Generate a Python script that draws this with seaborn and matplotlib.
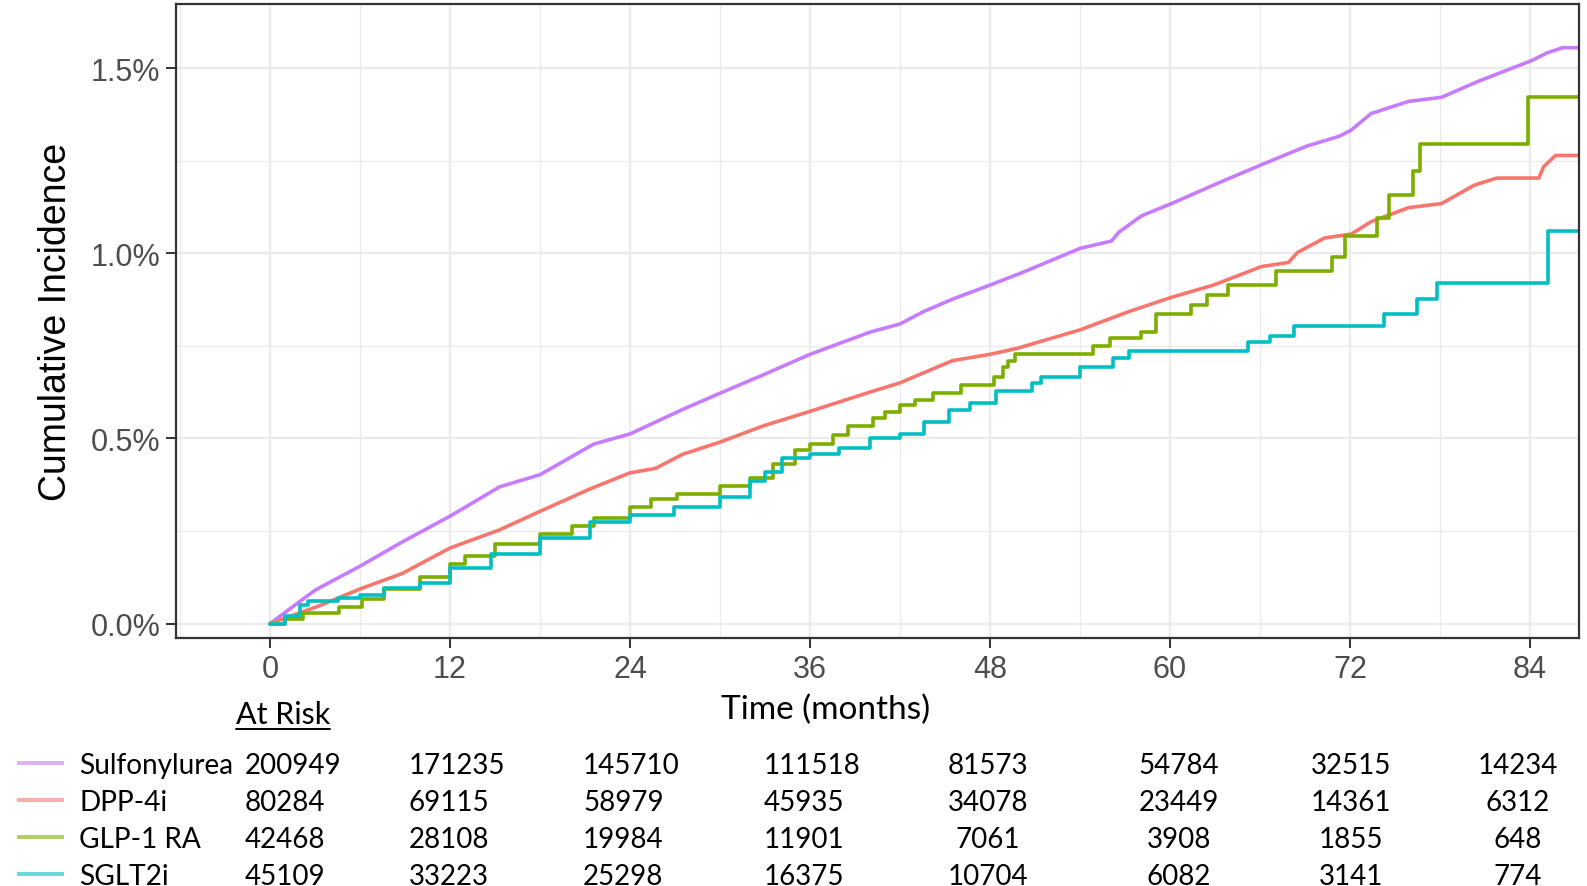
import numpy as np
import pandas as pd
import matplotlib
matplotlib.use("Agg")
import matplotlib.pyplot as plt
import seaborn as sns
from matplotlib.lines import Line2D
from matplotlib.ticker import FuncFormatter, MultipleLocator

# ---- data (cumulative incidence in %) ----
groups = ["Sulfonylurea", "DPP-4i", "GLP-1 RA", "SGLT2i"]
colors = ["#C77CFF", "#F8766D", "#7CAE00", "#00BFC4"]

su_t = [0, 1, 2, 3, 6, 8.8, 12, 15.3, 18, 21.6, 24, 27.5, 30, 32.9, 36, 40, 42,
        43.6, 45.5, 48, 50.1, 54, 56.1, 56.6, 58.1, 60.1, 62.9, 66.1, 69.1,
        71.3, 72.1, 73.4, 75.9, 78.1, 80.6, 84.1, 85.2, 86.2, 88]
su_ci = [0, 0.03, 0.06, 0.09, 0.155, 0.22, 0.29, 0.369, 0.402, 0.485, 0.512,
         0.578, 0.622, 0.672, 0.727, 0.787, 0.809, 0.843, 0.876, 0.914, 0.947,
         1.013, 1.033, 1.057, 1.101, 1.134, 1.184, 1.239, 1.289, 1.316, 1.333,
         1.377, 1.41, 1.421, 1.465, 1.52, 1.542, 1.555, 1.555]

dpp_t = [0, 1, 3.1, 6.1, 8.8, 12, 15.3, 18, 21.3, 24, 25.7, 27.5, 30, 32.9, 36,
         40, 42, 45.5, 48, 49.8, 54, 57.3, 60.1, 62.9, 66.1, 67.9, 68.5, 70.3,
         72.1, 73.4, 75.9, 78.1, 80.3, 81.8, 84.6, 84.9, 85.7, 88]
dpp_ci = [0, 0.015, 0.045, 0.095, 0.135, 0.204, 0.253, 0.303, 0.363, 0.407,
          0.419, 0.457, 0.49, 0.534, 0.573, 0.625, 0.65, 0.71, 0.727, 0.743,
          0.793, 0.843, 0.881, 0.914, 0.964, 0.975, 1.002, 1.041, 1.052, 1.085,
          1.123, 1.134, 1.184, 1.203, 1.203, 1.233, 1.264, 1.264]

glp_t = [0, 1, 2.2, 4.6, 6.1, 7.6, 10, 12, 13, 15, 18, 20.1, 21.6, 24, 25.4,
         27.1, 30, 32, 33.5, 35, 36, 37.5, 38.5, 40.2, 41, 42, 43, 44.2, 46.1,
         48.3, 48.9, 49.2, 49.7, 54.9, 56, 58.1, 59.1, 61.4, 62.5, 63.9, 67.1,
         70.8, 71.7, 73.8, 74.6, 76.2, 76.7, 83.9, 88]
glp_ci = [0, 0.012, 0.028, 0.044, 0.065, 0.094, 0.127, 0.16, 0.182, 0.215,
          0.242, 0.264, 0.286, 0.314, 0.336, 0.35, 0.372, 0.394, 0.43, 0.468,
          0.485, 0.51, 0.534, 0.556, 0.572, 0.589, 0.605, 0.622, 0.644, 0.666,
          0.694, 0.71, 0.729, 0.749, 0.771, 0.787, 0.835, 0.861, 0.887, 0.914,
          0.953, 0.991, 1.046, 1.096, 1.156, 1.222, 1.294, 1.423, 1.423]

sglt_t = [0, 1, 2, 2.5, 4.5, 6, 7.6, 10, 12, 14.7, 18, 21.3, 24, 26.9, 30, 32,
          33, 34.1, 36, 37.9, 40, 42, 43.6, 45.3, 46.7, 48.4, 50.8, 51.4, 54,
          56.2, 57.3, 65.2, 66.7, 68.3, 74.3, 76.5, 77.8, 85.2, 88]
sglt_ci = [0, 0.02, 0.05, 0.062, 0.068, 0.078, 0.097, 0.11, 0.149, 0.187,
           0.231, 0.275, 0.292, 0.314, 0.341, 0.385, 0.41, 0.446, 0.457, 0.474,
           0.501, 0.512, 0.545, 0.578, 0.595, 0.628, 0.65, 0.666, 0.694, 0.716,
           0.736, 0.76, 0.776, 0.804, 0.835, 0.876, 0.92, 1.061, 1.061]

risk_times = [0, 12, 24, 36, 48, 60, 72, 84]
risk_su = [200949, 171235, 145710, 111518, 81573, 54784, 32515, 14234]
risk_dpp = [80284, 69115, 58979, 45935, 34078, 23449, 14361, 6312]
risk_glp = [42468, 28108, 19984, 11901, 7061, 3908, 1855, 648]
risk_sglt = [45109, 33223, 25298, 16375, 10704, 6082, 3141, 774]

curves = {
    "Sulfonylurea": (su_t, su_ci, "default"),
    "DPP-4i": (dpp_t, dpp_ci, "default"),
    "GLP-1 RA": (glp_t, glp_ci, "steps-post"),
    "SGLT2i": (sglt_t, sglt_ci, "steps-post"),
}
at_risk = [risk_su, risk_dpp, risk_glp, risk_sglt]

sns.set_style("white")
plt.rcParams["font.family"] = ["Liberation Sans", "DejaVu Sans"]

W, H = 1587, 887
fig = plt.figure(figsize=(W / 100, H / 100), dpi=100)


def px(x, y):
    return x / W, 1 - y / H


# axes box in pixels: left 176, right 1579, top 5, bottom 639
ax = fig.add_axes([176 / W, 1 - 639 / H, (1579 - 176) / W, (639 - 5) / H])

for name, color in zip(groups, colors):
    t, ci, ds = curves[name]
    df = pd.DataFrame({"time": t, "ci": ci})
    sns.lineplot(data=df, x="time", y="ci", color=color, lw=2.6,
                 drawstyle=ds, estimator=None, ax=ax, legend=False)

ax.set_xlim(-6.27, 87.27)
ax.set_ylim(-0.039, 1.673)
ax.xaxis.set_major_locator(MultipleLocator(12))
ax.xaxis.set_minor_locator(MultipleLocator(6))
ax.yaxis.set_major_locator(MultipleLocator(0.5))
ax.yaxis.set_minor_locator(MultipleLocator(0.25))
ax.yaxis.set_major_formatter(FuncFormatter(lambda v, _: f"{v:.1f}%"))
ax.set_axisbelow(True)
ax.grid(which="major", color="#EBEBEB", lw=1.6)
ax.grid(which="minor", color="#EBEBEB", lw=1.0)
ax.tick_params(which="major", direction="out", length=7.2, width=1.4,
               color="#333333", labelsize=22, labelcolor="#4D4D4D", pad=4,
               bottom=True, left=True)
ax.tick_params(which="minor", length=0)
for s in ax.spines.values():
    s.set_color("#333333")
    s.set_linewidth(1.6)
ax.set_xlabel("")
ax.set_ylabel("")

fig.text(*px(56, 322), "Cumulative Incidence", rotation=90, ha="center",
         va="center", fontsize=27, color="black")

# annotation text (Calibri-like in the original)
tfont = ["Lato", "DejaVu Sans"]
fig.text(*px(826, 719), "Time (months)", ha="center", va="baseline",
         fontsize=24, family=tfont, color="black")
ar = fig.text(*px(236, 724), "At Risk", ha="left", va="baseline",
              fontsize=22, family=tfont, color="black")

row_y = [774, 811, 848, 885]
col_x = [245, 409, 583, 764, 988, 1179, 1351, 1518]
col_ha = ["left"] * 4 + ["center"] * 4
for i, (name, color) in enumerate(zip(groups, colors)):
    yb = row_y[i]
    fig.add_artist(Line2D([17 / W, 64 / W], [1 - (yb - 10) / H] * 2,
                          color=color, lw=2.8, alpha=0.6,
                          solid_capstyle="butt"))
    fig.text(*px(79, yb), name, ha="left", va="baseline", fontsize=20.2,
             family=tfont, color="black")
    for j, n in enumerate(at_risk[i]):
        fig.text(*px(col_x[j], yb), str(n), ha=col_ha[j], va="baseline",
                 fontsize=20, family=tfont, color="black")

fig.canvas.draw()
bb = ar.get_window_extent()
fig.add_artist(Line2D([bb.x0 / W, bb.x1 / W], [1 - 730 / H] * 2,
                      color="black", lw=1.4))

fig.savefig("out.png", dpi=100)
